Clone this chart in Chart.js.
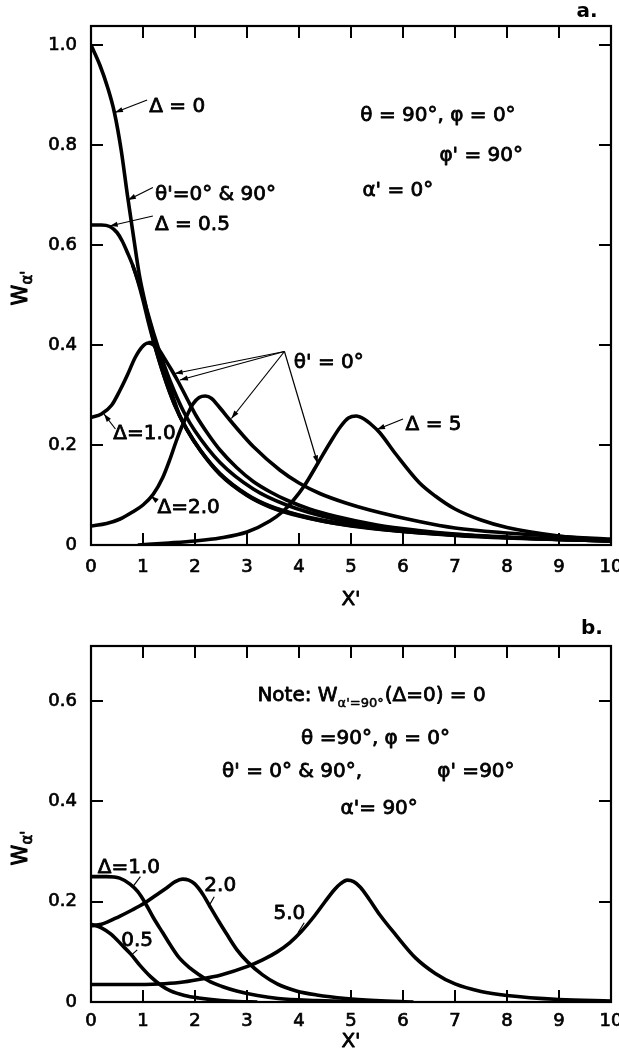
<!DOCTYPE html>
<html>
<head>
<meta charset="utf-8">
<script src="https://cdn.jsdelivr.net/npm/chart.js@4.4.0/dist/chart.umd.min.js"></script>
<style>
  html, body { margin: 0; padding: 0; background: #fff; }
  #wrap { position: relative; width: 619px; height: 1058px; overflow: hidden; }
  #chartA { position: absolute; left: 0; top: 0; }
  #chartB { position: absolute; left: 0; top: 615px; }
</style>
</head>
<body>
<div id="wrap">
  <canvas id="chartA" width="619" height="615"></canvas>
  <canvas id="chartB" width="619" height="443"></canvas>
</div>
<script>
const FONT = "'DejaVu Sans', sans-serif";

// tick values
const xTicks = [0, 1, 2, 3, 4, 5, 6, 7, 8, 9, 10];
const yTicksA = [0, 0.2, 0.4, 0.6, 0.8, 1.0];
const yTicksB = [0, 0.2, 0.4, 0.6];

// ---- panel a : alpha' = 0 deg ----  [x', W]
const aDelta0 = [[0, 1.0], [0.17, 0.96], [0.32, 0.915], [0.45, 0.865], [0.58, 0.79], [0.7, 0.7], [0.82, 0.615],
  [0.93, 0.54], [1.04, 0.485], [1.2, 0.41], [1.4, 0.34], [1.6, 0.283], [1.84, 0.232], [2.1, 0.19], [2.48, 0.142],
  [3.0, 0.1], [3.44, 0.077], [4.0, 0.059], [4.4, 0.049], [5.0, 0.039], [6.0, 0.027], [7.0, 0.02], [8.0, 0.015],
  [9.0, 0.011], [10, 0.008]];
const aDelta05 = [[0, 0.64], [0.2, 0.64], [0.36, 0.637], [0.5, 0.625], [0.6, 0.608], [0.7, 0.585], [0.8, 0.56],
  [0.9, 0.528], [1.0, 0.49], [1.1, 0.447], [1.2, 0.408], [1.4, 0.339], [1.6, 0.282], [1.84, 0.231], [2.1, 0.189],
  [2.48, 0.141], [3.0, 0.099], [3.44, 0.076], [4.0, 0.058], [5.0, 0.038], [6.0, 0.027], [7.0, 0.019], [8.0, 0.014],
  [9.0, 0.011], [10, 0.008]];
const aDelta05T0 = [[0.8, 0.56], [0.9, 0.53], [1.0, 0.497], [1.2, 0.425], [1.4, 0.362], [1.6, 0.308], [1.8, 0.263],
  [2.0, 0.228], [2.48, 0.165], [3.12, 0.112], [3.76, 0.08], [4.72, 0.051], [5.5, 0.037], [6.3, 0.027], [7.0, 0.021],
  [8.0, 0.015], [9.0, 0.011], [10, 0.008]];
const aDelta1 = [[0, 0.255], [0.2, 0.262], [0.4, 0.28], [0.56, 0.31], [0.7, 0.34], [0.85, 0.375], [1.0, 0.398],
  [1.1, 0.404], [1.2, 0.4], [1.3, 0.385], [1.42, 0.35], [1.55, 0.305], [1.7, 0.26], [1.84, 0.232], [2.1, 0.19],
  [2.48, 0.143], [3.0, 0.101], [3.44, 0.078], [4.0, 0.06], [5.0, 0.04], [6.0, 0.028], [7.0, 0.02], [8.0, 0.015],
  [9.0, 0.011], [10, 0.008]];
const aDelta1T0 = [[1.1, 0.405], [1.2, 0.403], [1.3, 0.392], [1.42, 0.372], [1.55, 0.35], [1.68, 0.326],
  [1.85, 0.292], [2.03, 0.257], [2.25, 0.222], [2.48, 0.19], [2.8, 0.155], [3.12, 0.127], [3.45, 0.106],
  [3.76, 0.09], [4.2, 0.072], [4.72, 0.057], [5.5, 0.04], [6.3, 0.029], [7.0, 0.022], [8.0, 0.016], [9.0, 0.012],
  [10, 0.009]];
const aDelta2 = [[0, 0.038], [0.3, 0.043], [0.56, 0.052], [0.8, 0.066], [1.0, 0.08], [1.2, 0.102], [1.38, 0.135],
  [1.52, 0.172], [1.64, 0.208], [1.74, 0.235], [1.86, 0.262], [1.96, 0.282], [2.08, 0.295], [2.2, 0.298],
  [2.32, 0.293], [2.45, 0.278], [2.67, 0.25], [2.9, 0.222], [3.12, 0.197], [3.63, 0.15], [4.0, 0.124], [4.4, 0.103],
  [4.9, 0.084], [5.36, 0.07], [6.31, 0.047], [7.0, 0.034], [8.0, 0.024], [9.0, 0.017], [10, 0.012]];
const aDelta5 = [[0.9, 0.0], [1.5, 0.004], [2.0, 0.008], [2.48, 0.014], [3.0, 0.026], [3.44, 0.048], [3.7, 0.068],
  [3.88, 0.088], [4.1, 0.118], [4.36, 0.163], [4.6, 0.205], [4.8, 0.237], [4.95, 0.254], [5.1, 0.258], [5.25, 0.252],
  [5.4, 0.24], [5.55, 0.225], [5.86, 0.182], [6.31, 0.125], [6.62, 0.098], [7.0, 0.072], [7.5, 0.05], [8.0, 0.035],
  [9.0, 0.018], [10, 0.009]];

// ---- panel b : alpha' = 90 deg ----
const bDelta05 = [[0, 0.155], [0.2, 0.148], [0.39, 0.135], [0.6, 0.113], [0.77, 0.095], [0.95, 0.072], [1.15, 0.05],
  [1.35, 0.033], [1.53, 0.022], [1.8, 0.013], [2.07, 0.008], [2.5, 0.003], [2.82, 0.001], [3.2, 0.0]];
const bDelta1 = [[0, 0.25], [0.3, 0.25], [0.55, 0.247], [0.75, 0.235], [0.9, 0.22], [1.04, 0.198], [1.2, 0.168],
  [1.38, 0.138], [1.53, 0.113], [1.69, 0.089], [1.9, 0.068], [2.07, 0.055], [2.3, 0.04], [2.52, 0.031], [2.8, 0.022],
  [3.2, 0.013], [3.6, 0.007], [4.34, 0.003], [5.0, 0.001], [5.8, 0.0]];
const bDelta2 = [[0, 0.152], [0.2, 0.155], [0.55, 0.171], [0.8, 0.184], [1.04, 0.198], [1.25, 0.213], [1.46, 0.228],
  [1.62, 0.24], [1.76, 0.245], [1.88, 0.243], [1.99, 0.236], [2.15, 0.215], [2.29, 0.19], [2.45, 0.162], [2.6, 0.137],
  [2.8, 0.105], [3.01, 0.08], [3.3, 0.054], [3.58, 0.036], [3.95, 0.022], [4.34, 0.014], [4.9, 0.007], [5.48, 0.003],
  [6.2, 0.0]];
const bDelta5 = [[0, 0.035], [0.7, 0.035], [1.3, 0.036], [1.7, 0.039], [2.07, 0.045], [2.5, 0.054], [3.01, 0.071],
  [3.3, 0.084], [3.58, 0.1], [3.82, 0.118], [4.04, 0.14], [4.3, 0.172], [4.5, 0.2], [4.68, 0.224], [4.8, 0.236],
  [4.93, 0.243], [5.05, 0.24], [5.18, 0.229], [5.35, 0.205], [5.56, 0.173], [5.86, 0.134], [6.24, 0.088],
  [6.62, 0.057], [7.0, 0.036], [7.5, 0.021], [8.0, 0.013], [9.0, 0.005], [10, 0.002]];

// labels and leader lines, placed in data units
const notes = {
  chartA: {
    texts: [
      { x: 1.12, y: 0.866, runs: [{ t: 'Δ = 0' }] },
      { x: 5.18, y: 0.848, runs: [{ t: 'θ = 90°, φ = 0°' }] },
      { x: 6.7, y: 0.768, runs: [{ t: "φ' = 90°" }] },
      { x: 5.22, y: 0.698, runs: [{ t: "α' = 0°" }] },
      { x: 1.23, y: 0.691, runs: [{ t: "θ'=0° & 90°" }] },
      { x: 1.23, y: 0.631, runs: [{ t: 'Δ = 0.5' }] },
      { x: 3.9, y: 0.355, runs: [{ t: "θ' = 0°" }] },
      { x: 0.43, y: 0.213, runs: [{ t: 'Δ=1.0' }] },
      { x: 1.28, y: 0.065, runs: [{ t: 'Δ=2.0' }] },
      { x: 6.05, y: 0.23, runs: [{ t: 'Δ = 5' }] }
    ],
    leaders: [
      [1.08, 0.89, 0.46, 0.865], [1.19, 0.715, 0.71, 0.69], [1.19, 0.658, 0.36, 0.638],
      [3.72, 0.387, 1.61, 0.343], [3.72, 0.387, 1.71, 0.33], [3.72, 0.387, 2.70, 0.253], [3.72, 0.387, 4.36, 0.163],
      [0.47, 0.232, 0.25, 0.262], [1.27, 0.088, 1.15, 0.098], [6.0, 0.252, 5.5, 0.231]
    ],
    arrows: true,
    xTitleDy: 55,
    yTitle: { x: 20, y: 288 },
    letter: { t: 'a.', x: 587, y: 12 }
  },
  chartB: {
    texts: [
      { x: 3.2, y: 0.601, runs: [{ t: 'Note: W' }, { t: "α'=90°", sub: true }, { t: '(Δ=0) = 0' }] },
      { x: 4.04, y: 0.515, runs: [{ t: 'θ =90°, φ = 0°' }] },
      { x: 2.52, y: 0.448, runs: [{ t: "θ' = 0° & 90°," }] },
      { x: 6.66, y: 0.448, runs: [{ t: "φ' =90°" }] },
      { x: 4.8, y: 0.375, runs: [{ t: "α'= 90°" }] },
      { x: 0.13, y: 0.258, runs: [{ t: 'Δ=1.0' }] },
      { x: 2.18, y: 0.221, runs: [{ t: '2.0' }] },
      { x: 3.51, y: 0.165, runs: [{ t: '5.0' }] },
      { x: 0.58, y: 0.111, runs: [{ t: '0.5' }] }
    ],
    leaders: [
      [0.95, 0.25, 0.82, 0.232], [2.37, 0.21, 2.27, 0.192], [4.1, 0.158, 3.98, 0.138], [0.89, 0.104, 0.78, 0.094]
    ],
    arrows: false,
    xTitleDy: 40,
    yTitle: { x: 20, y: 233 },
    letter: { t: 'b.', x: 592, y: 14 }
  }
};

const TICK = 12;

// box frame with inward ticks on all four sides
const framePlugin = {
  id: 'frame',
  afterDatasetsDraw(chart) {
    const { ctx, chartArea: a } = chart;
    const xs = chart.scales.x, ys = chart.scales.y;
    ctx.save();
    ctx.strokeStyle = '#000';
    ctx.lineWidth = 2.2;
    ctx.strokeRect(a.left, a.top, a.right - a.left, a.bottom - a.top);
    ctx.lineWidth = 2;
    ctx.beginPath();
    xs.ticks.forEach(t => {
      if (t.value <= xs.min || t.value >= xs.max) return;
      const px = Math.round(xs.getPixelForValue(t.value));
      ctx.moveTo(px, a.top); ctx.lineTo(px, a.top + TICK);
      ctx.moveTo(px, a.bottom); ctx.lineTo(px, a.bottom - TICK);
    });
    ys.ticks.forEach(t => {
      if (t.value <= ys.min || t.value >= ys.max) return;
      const py = Math.round(ys.getPixelForValue(t.value));
      ctx.moveTo(a.left, py); ctx.lineTo(a.left + TICK, py);
      ctx.moveTo(a.right, py); ctx.lineTo(a.right - TICK, py);
    });
    ctx.stroke();
    ctx.restore();
  }
};

function arrowHead(ctx, x1, y1, x2, y2) {
  const ang = Math.atan2(y2 - y1, x2 - x1);
  const len = 8, half = 2.6;
  ctx.beginPath();
  ctx.moveTo(x2, y2);
  ctx.lineTo(x2 - len * Math.cos(ang) + half * Math.sin(ang), y2 - len * Math.sin(ang) - half * Math.cos(ang));
  ctx.lineTo(x2 - len * Math.cos(ang) - half * Math.sin(ang), y2 - len * Math.sin(ang) + half * Math.cos(ang));
  ctx.closePath();
  ctx.fill();
}

// text drawn a little heavier, like the hand lettering of the original
function heavyText(ctx, t, x, y, w) {
  ctx.lineWidth = w;
  ctx.strokeText(t, x, y);
  ctx.fillText(t, x, y);
}

// annotation text, leader lines, axis titles
const notesPlugin = {
  id: 'notes',
  afterDraw(chart) {
    const n = notes[chart.canvas.id];
    if (!n) return;
    const { ctx, chartArea: a } = chart;
    const xs = chart.scales.x, ys = chart.scales.y;
    ctx.save();
    ctx.fillStyle = '#000';
    ctx.strokeStyle = '#000';
    ctx.lineJoin = 'round';
    ctx.textBaseline = 'alphabetic';
    ctx.textAlign = 'left';

    n.texts.forEach(tx => {
      let px = xs.getPixelForValue(tx.x);
      const py = ys.getPixelForValue(tx.y);
      tx.runs.forEach(r => {
        const fs = r.sub ? 13 : 20;
        ctx.font = fs + 'px ' + FONT;
        heavyText(ctx, r.t, px, py + (r.sub ? 6 : 0), r.sub ? 0.5 : 0.8);
        px += ctx.measureText(r.t).width + (r.sub ? 1 : 0);
      });
    });

    ctx.lineWidth = 1.2;
    n.leaders.forEach(l => {
      const x1 = xs.getPixelForValue(l[0]), y1 = ys.getPixelForValue(l[1]);
      const x2 = xs.getPixelForValue(l[2]), y2 = ys.getPixelForValue(l[3]);
      ctx.beginPath();
      ctx.moveTo(x1, y1);
      ctx.lineTo(x2, y2);
      ctx.stroke();
      if (n.arrows) arrowHead(ctx, x1, y1, x2, y2);
    });

    // x title
    ctx.font = '20px ' + FONT;
    ctx.textAlign = 'center';
    ctx.textBaseline = 'middle';
    heavyText(ctx, "X'", (a.left + a.right) / 2, a.bottom + n.xTitleDy, 0.8);

    // y title: W with subscript alpha'
    ctx.save();
    ctx.translate(n.yTitle.x, n.yTitle.y);
    ctx.rotate(-Math.PI / 2);
    ctx.textAlign = 'left';
    ctx.textBaseline = 'alphabetic';
    ctx.font = '21px ' + FONT;
    const w1 = ctx.measureText('W').width;
    ctx.font = '15px ' + FONT;
    const w2 = ctx.measureText("α'").width;
    const start = -(w1 + w2) / 2;
    ctx.font = '21px ' + FONT;
    heavyText(ctx, 'W', start, 7, 1);
    ctx.font = '15px ' + FONT;
    heavyText(ctx, "α'", start + w1, 12, 0.8);
    ctx.restore();

    // panel letter
    ctx.font = 'bold 20px ' + FONT;
    ctx.textAlign = 'center';
    ctx.textBaseline = 'middle';
    ctx.fillText(n.letter.t, n.letter.x, n.letter.y);
    ctx.restore();
  }
};

function toXY(points) {
  return points.map(p => ({ x: p[0], y: p[1] }));
}

function makeChart(id, series, yMax, yTicks, padTop, xAxisHeight, xLabelPad) {
  const ctx = document.getElementById(id).getContext('2d');
  return new Chart(ctx, {
    type: 'line',
    data: {
      datasets: series.map(s => ({
        label: s.label,
        data: toXY(s.points),
        borderColor: '#000',
        borderWidth: 3.6,
        pointRadius: 0,
        fill: false,
        cubicInterpolationMode: 'monotone'
      }))
    },
    options: {
      responsive: false,
      animation: false,
      layout: { padding: { left: 0, right: 8, top: padTop, bottom: 0 }, autoPadding: false },
      scales: {
        x: {
          type: 'linear', min: 0, max: 10,
          grid: { display: false }, border: { display: false },
          afterBuildTicks: s => { s.ticks = xTicks.map(v => ({ value: v })); },
          afterFit: s => { s.height = xAxisHeight; s.paddingLeft = 0; s.paddingRight = 0; },
          ticks: { color: '#000', font: { family: FONT, size: 18 }, padding: xLabelPad, maxRotation: 0,
                   autoSkip: false, textStrokeColor: '#000', textStrokeWidth: 0.7,
                   callback: v => String(v) }
        },
        y: {
          type: 'linear', min: 0, max: yMax,
          grid: { display: false }, border: { display: false },
          afterBuildTicks: s => { s.ticks = yTicks.map(v => ({ value: v })); },
          afterFit: s => { s.width = 91; s.paddingTop = 0; s.paddingBottom = 0; },
          ticks: { color: '#000', font: { family: FONT, size: 18 }, padding: 6,
                   textStrokeColor: '#000', textStrokeWidth: 0.7,
                   callback: v => (v === 0 ? '0' : v.toFixed(1)) }
        }
      },
      plugins: { legend: { display: false }, tooltip: { enabled: false } }
    },
    plugins: [framePlugin, notesPlugin]
  });
}

makeChart('chartA', [
  { label: 'Δ=0', points: aDelta0 },
  { label: 'Δ=0.5', points: aDelta05 },
  { label: "Δ=0.5 θ'=0°", points: aDelta05T0 },
  { label: 'Δ=1.0', points: aDelta1 },
  { label: "Δ=1.0 θ'=0°", points: aDelta1T0 },
  { label: 'Δ=2.0', points: aDelta2 },
  { label: 'Δ=5', points: aDelta5 }
], 1.038, yTicksA, 26, 70, 4);

makeChart('chartB', [
  { label: 'Δ=0.5', points: bDelta05 },
  { label: 'Δ=1.0', points: bDelta1 },
  { label: 'Δ=2.0', points: bDelta2 },
  { label: 'Δ=5.0', points: bDelta5 }
], 0.71, yTicksB, 31, 56, 1);
</script>
</body>
</html>
